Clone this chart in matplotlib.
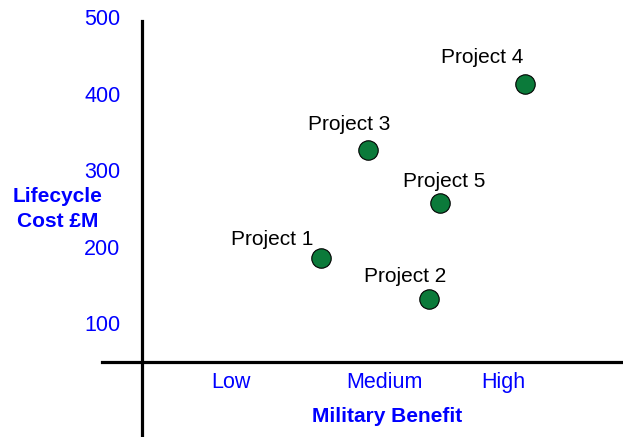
import matplotlib
matplotlib.use('Agg')
import matplotlib.pyplot as plt

plt.rcParams['font.family'] = ['Liberation Sans', 'DejaVu Sans']

# project positions: benefit score (arbitrary units) vs lifecycle cost (GBP M)
projects = ['Project 1', 'Project 2', 'Project 3', 'Project 4', 'Project 5']
benefit = [3.57, 5.73, 4.52, 7.66, 5.96]
cost = [185, 132, 326, 413, 257]

# label offsets in pixels relative to each point
label_dx = [-48, -23, -19, -43, 4]
label_dy = [19, 22, 26, 26, 22]

benefit_ticks = [1.78, 4.84, 7.22]
benefit_labels = ['Low', 'Medium', 'High']
cost_ticks = [100, 200, 300, 400, 500]

BLUE = '#0000ff'
GREEN = '#0b7a3a'

fig = plt.figure(figsize=(6.23, 4.37), dpi=100)
ax = fig.add_axes([0, 0, 1, 1])
ax.set_xlim(-2.84, 9.62)
ax.set_ylim(-49.3, 522.9)

for s in ['top', 'right']:
    ax.spines[s].set_visible(False)
ax.spines['left'].set_position(('data', 0))
ax.spines['bottom'].set_position(('data', 48.5))
ax.spines['left'].set_bounds(-49.3, 496)
ax.spines['bottom'].set_bounds(-0.8, 9.62)
for s in ['left', 'bottom']:
    ax.spines[s].set_linewidth(2.3)
    ax.spines[s].set_color('black')

ax.set_yticks(cost_ticks)
ax.set_yticklabels([str(v) for v in cost_ticks])
ax.set_xticks(benefit_ticks)
ax.set_xticklabels(benefit_labels)
ax.tick_params(axis='y', length=0, pad=15.5, labelsize=15.5, labelcolor=BLUE)
ax.tick_params(axis='x', length=0, pad=7, labelsize=15.5, labelcolor=BLUE)

ax.plot(benefit, cost, 'o', ms=14, color=GREEN, mec='black', mew=0.8, zorder=3)
for name, x, y, dx, dy in zip(projects, benefit, cost, label_dx, label_dy):
    ax.annotate(name, (x, y), xytext=(dx, dy), textcoords='offset pixels',
                ha='center', va='center', fontsize=15, color='black')

fig.text(58 / 623, 1 - 209 / 437, 'Lifecycle\nCost £M', ha='center', va='center',
         fontsize=15, fontweight='bold', color=BLUE, linespacing=1.4)
fig.text(387 / 623, 1 - 417 / 437, 'Military Benefit', ha='center', va='center',
         fontsize=15, fontweight='bold', color=BLUE)

fig.savefig('out.png', dpi=100)
